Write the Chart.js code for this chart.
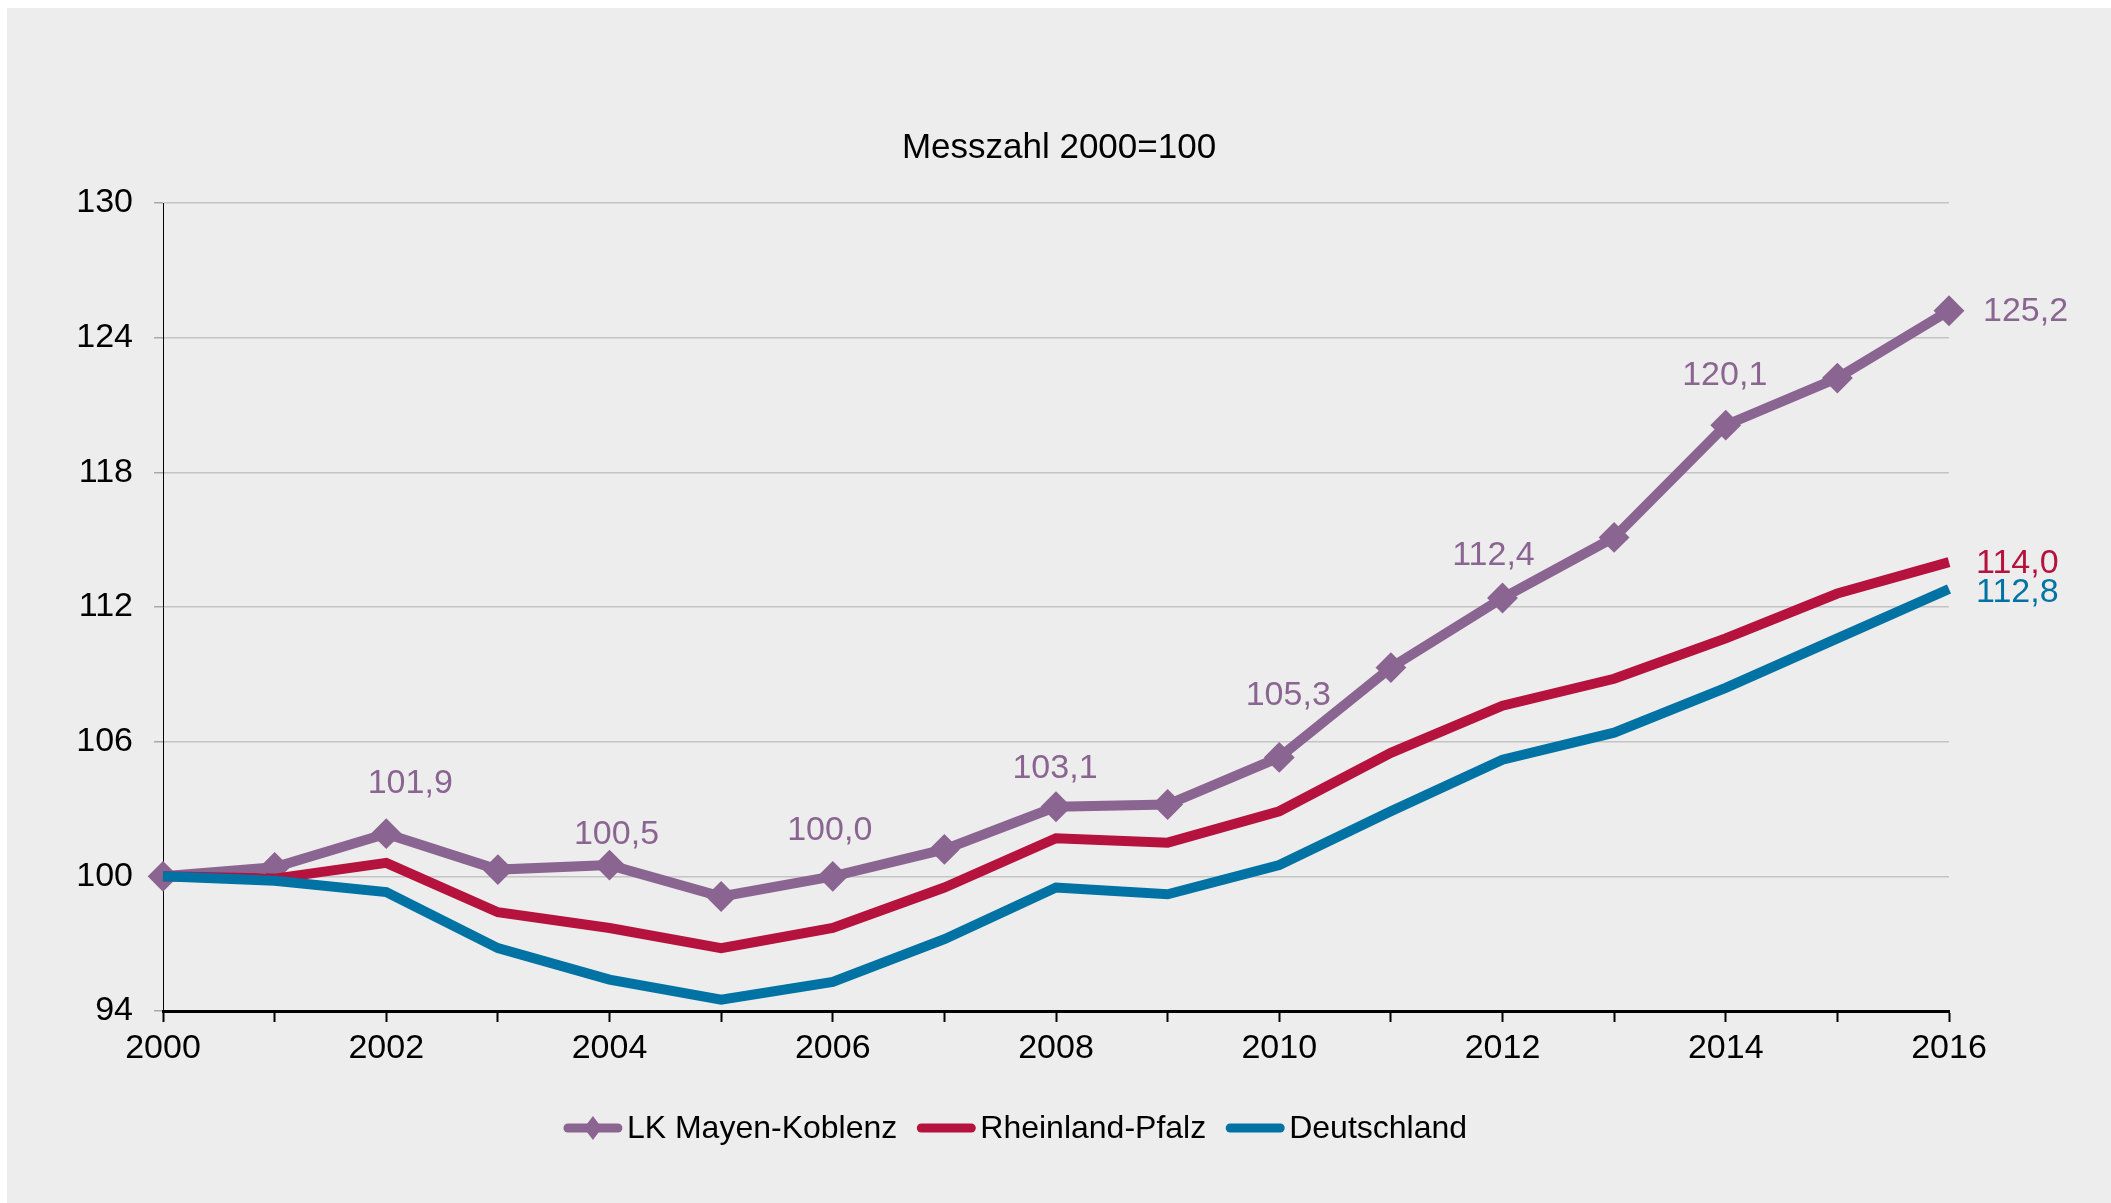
<!DOCTYPE html>
<html><head><meta charset="utf-8">
<script src="https://cdn.jsdelivr.net/npm/chart.js@4/dist/chart.umd.min.js"></script>
<style>
html,body{margin:0;padding:0;background:#fff;width:2111px;height:1203px;overflow:hidden;}
#wrap{position:absolute;left:7px;top:8px;width:2104px;height:1195px;background:#ededed;}
canvas{display:block;}
</style></head><body>
<div id="wrap"><canvas id="c" width="2104" height="1195"></canvas></div>
<script>
// ---- data ----
const years = ['2000','2001','2002','2003','2004','2005','2006','2007','2008','2009','2010','2011','2012','2013','2014','2015','2016'];
const mayenKoblenz   = [100.0,100.4,101.9,100.3,100.5,99.1,100.0,101.2,103.1,103.2,105.3,109.3,112.4,115.1,120.1,122.2,125.2];
const rheinlandPfalz = [100.0,99.9,100.6,98.4,97.7,96.8,97.7,99.5,101.7,101.5,102.9,105.5,107.6,108.8,110.6,112.6,114.0];
const deutschland    = [100.0,99.8,99.3,96.8,95.4,94.5,95.3,97.2,99.5,99.2,100.5,102.9,105.2,106.4,108.4,110.6,112.8];
const seriesNames = ['LK Mayen-Koblenz','Rheinland-Pfalz','Deutschland'];
const yTicks = [94,100,106,112,118,124,130];
const titleText = 'Messzahl 2000=100';
// which points carry a value label (series index, point index)
const labelledPoints = [[0,2],[0,4],[0,6],[0,8],[0,10],[0,12],[0,14],[0,16],[1,16],[2,16]];

// ---- styles ----
const FONT = '"Liberation Sans", Arial, Helvetica, sans-serif';
const colors = ['#8b6591','#b5123e','#0072a3'];
const labelOffsets = {
  '0,2':[24,-50,'center'], '0,4':[7,-30,'center'], '0,6':[-3,-46,'center'], '0,8':[-1,-38,'center'],
  '0,10':[9,-62,'center'], '0,12':[-9,-42,'center'], '0,14':[-1,-50,'center'], '0,16':[34,1,'left'],
  '1,16':[27,2,'left'], '2,16':[27,4,'left']
};
Chart.defaults.font.family = FONT;
Chart.defaults.color = '#000';

const fmt = v => v.toFixed(1).replace('.', ',');

const valueLabels = {
  id:'valueLabels',
  afterDatasetsDraw(chart){
    const ctx = chart.ctx;
    ctx.save();
    ctx.font = '34px ' + FONT;
    ctx.textBaseline = 'middle';
    labelledPoints.forEach(([s,i])=>{
      const el = chart.getDatasetMeta(s).data[i];
      const o = labelOffsets[s+','+i];
      ctx.fillStyle = colors[s];
      ctx.textAlign = o[2];
      ctx.fillText(fmt(chart.data.datasets[s].data[i]), el.x + o[0], el.y + o[1]);
    });
    ctx.restore();
  }
};

const customLegend = {
  id:'customLegend',
  afterDraw(chart){
    const ctx = chart.ctx;
    ctx.save();
    ctx.font = '32px ' + FONT;
    ctx.textBaseline = 'middle';
    ctx.textAlign = 'left';
    const symW = 60, gapT = 4, gapI = 19;
    const ds = chart.data.datasets;
    const widths = ds.map(d => symW + gapT + ctx.measureText(d.label).width);
    const total = widths.reduce((a,b)=>a+b,0) + gapI*(ds.length-1);
    let x = chart.width/2 - 44 - total/2;
    const y = chart.chartArea.bottom + 117;
    ds.forEach((d,k)=>{
      ctx.strokeStyle = d.borderColor;
      ctx.lineWidth = 9;
      ctx.lineCap = 'round';
      ctx.beginPath(); ctx.moveTo(x+5,y); ctx.lineTo(x+symW-5,y); ctx.stroke();
      if (d.pointRadius > 0) {
        ctx.fillStyle = d.borderColor;
        const r = 12, cx = x + symW/2;
        ctx.beginPath(); ctx.moveTo(cx-r*0.75,y); ctx.lineTo(cx,y-r); ctx.lineTo(cx+r*0.75,y); ctx.lineTo(cx,y+r); ctx.closePath(); ctx.fill();
      }
      ctx.fillStyle = '#000';
      ctx.fillText(d.label, x + symW + gapT, y + 1);
      x += widths[k] + gapI;
    });
    ctx.restore();
  }
};

new Chart(document.getElementById('c'), {
  type:'line',
  data:{
    labels: years,
    datasets:[
      {label:seriesNames[0], data:mayenKoblenz, borderColor:colors[0], backgroundColor:colors[0], borderWidth:10,
       pointStyle:'rectRot', pointRadius:14, pointBorderWidth:2, pointBackgroundColor:colors[0], pointBorderColor:colors[0], order:2, tension:0},
      {label:seriesNames[1], data:rheinlandPfalz, borderColor:colors[1], backgroundColor:colors[1], borderWidth:10, pointRadius:0, order:1, tension:0},
      {label:seriesNames[2], data:deutschland, borderColor:colors[2], backgroundColor:colors[2], borderWidth:10, pointRadius:0, order:0, tension:0}
    ]
  },
  options:{
    responsive:false,
    animation:false,
    devicePixelRatio:1,
    layout:{padding:{left:0,right:0,top:0,bottom:0}},
    plugins:{
      legend:{display:false},
      tooltip:{enabled:false},
      title:{display:true, text:titleText, color:'#000', font:{family:FONT, size:35, weight:'normal'}, padding:{top:119,bottom:34}}
    },
    scales:{
      x:{
        type:'category',
        offset:false,
        grid:{display:true, drawOnChartArea:false, drawTicks:true, tickLength:11, tickColor:'#000', tickWidth:2},
        border:{display:true, color:'#000', width:3},
        ticks:{autoSkip:false, maxRotation:0, minRotation:0, padding:6, color:'#000', font:{size:34},
               callback:(v,i)=> i%2===0 ? years[i] : ''},
        afterFit:s=>{s.height = 192; s.paddingRight = 162;}
      },
      y:{
        min:94, max:130,
        afterBuildTicks:s=>{s.ticks = yTicks.map(v=>({value:v}));},
        grid:{color:'#c4c4c4', lineWidth:1.5, drawTicks:true, tickLength:9, tickColor:'#a8a8a8', tickWidth:1.5},
        border:{display:true, color:'#000', width:1},
        ticks:{padding:21, color:'#000', font:{size:34}},
        afterFit:s=>{s.width = 156;}
      }
    }
  },
  plugins:[valueLabels, customLegend]
});
</script>
</body></html>
